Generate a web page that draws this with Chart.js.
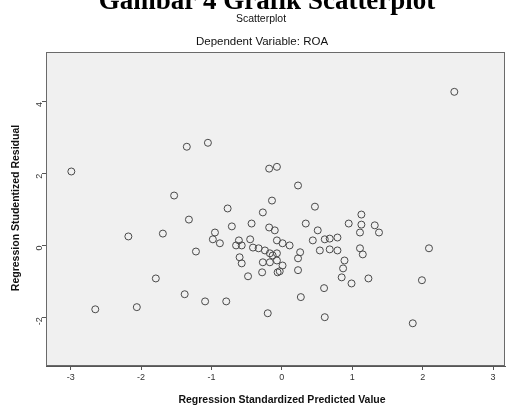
<!DOCTYPE html>
<html>
<head>
<meta charset="utf-8">
<script src="https://cdn.jsdelivr.net/npm/chart.js@4.4.1/dist/chart.umd.min.js"></script>
<style>
  html, body { margin: 0; padding: 0; background: #fff; }
  #wrap { width: 507px; height: 406px; position: relative; }
</style>
</head>
<body>
<div id="wrap"><canvas id="c" width="507" height="406"></canvas></div>
<script>
// predicted value (x) and studentized residual (y)
const predicted = [
  2.45, -2.99, -1.35, -1.05, -0.18, -0.07, 0.23, -1.53, -0.77, -0.14,
  0.47, -0.27, -1.32, 1.13, 0.34, 0.95, 1.13, 1.32, 1.38, 1.11,
  -2.18, -1.69, -0.43, -0.71, -0.18, -0.10, -0.95, -0.98, -0.88, -1.22,
  -0.61, -0.57, -0.65, -0.45, -0.41, -0.33, -0.24, -0.17, -0.07, -0.60,
  -0.57, -0.27, -0.17, -0.07, -0.28, -0.48, -0.06, 0.51, 0.44, 0.61,
  0.68, 0.79, -0.07, 0.01, 0.11, 0.54, 0.68, 0.79, 0.26, 0.23,
  0.01, -0.03, 0.23, 0.89, 0.87, 0.85, 0.99, 1.23, 1.11, 1.15,
  0.60, 0.27, 0.61, 2.09, 1.99, 1.86, -1.79, -1.38, -1.09, -0.79,
  -2.65, -2.06, -0.20, -0.13
];
const residual = [
  4.28, 2.06, 2.75, 2.86, 2.14, 2.19, 1.67, 1.39, 1.03, 1.25,
  1.08, 0.92, 0.72, 0.86, 0.61, 0.61, 0.58, 0.56, 0.36, 0.36,
  0.25, 0.33, 0.61, 0.53, 0.50, 0.42, 0.36, 0.17, 0.06, -0.17,
  0.14, 0.00, 0.00, 0.17, -0.06, -0.08, -0.14, -0.22, -0.22, -0.33,
  -0.50, -0.47, -0.47, -0.42, -0.75, -0.86, -0.75, 0.42, 0.14, 0.17,
  0.19, 0.22, 0.14, 0.06, 0.00, -0.14, -0.11, -0.14, -0.19, -0.36,
  -0.56, -0.72, -0.69, -0.42, -0.64, -0.89, -1.06, -0.92, -0.08, -0.25,
  -1.19, -1.44, -2.00, -0.08, -0.97, -2.17, -0.92, -1.36, -1.56, -1.56,
  -1.78, -1.72, -1.89, -0.28
];
const xTicks = [-3, -2, -1, 0, 1, 2, 3];
const yTicks = [-2, 0, 2, 4];

const points = predicted.map((x, i) => ({ x: x, y: residual[i] }));

// background box + the text around the plot
const frame = {
  id: 'frame',
  beforeDraw(chart) {
    const { ctx, chartArea: a } = chart;
    ctx.save();
    ctx.fillStyle = '#f0f0f0';
    ctx.fillRect(a.left, a.top, a.right - a.left, a.bottom - a.top);
    ctx.restore();
  },
  afterDraw(chart) {
    const { ctx, chartArea: a } = chart;
    ctx.save();
    ctx.strokeStyle = '#6a6a6a';
    ctx.lineWidth = 1;
    ctx.strokeRect(a.left + 0.5, a.top + 0.5, a.right - a.left - 1, a.bottom - a.top - 1);

    ctx.textAlign = 'center';
    ctx.textBaseline = 'alphabetic';
    ctx.fillStyle = '#000';
    ctx.font = 'bold 27px "Liberation Serif", "Times New Roman", serif';
    ctx.fillText('Gambar 4 Grafik Scatterplot', 267, 9);

    ctx.fillStyle = '#111';
    ctx.font = '10.5px "Liberation Sans", Arial, sans-serif';
    ctx.fillText('Scatterplot', 261, 22);
    ctx.font = '11.5px "Liberation Sans", Arial, sans-serif';
    ctx.fillText('Dependent Variable: ROA', 262, 45);

    ctx.font = 'bold 10.5px "Liberation Sans", Arial, sans-serif';
    ctx.fillText('Regression Standardized Predicted Value', 282, 403);
    ctx.translate(19, 208);
    ctx.rotate(-Math.PI / 2);
    ctx.fillText('Regression Studentized Residual', 0, 0);
    ctx.restore();
  }
};

new Chart(document.getElementById('c'), {
  type: 'scatter',
  data: {
    datasets: [{
      data: points,
      pointStyle: 'circle',
      pointRadius: 3.5,
      pointBorderWidth: 1,
      pointBorderColor: '#4a4a4a',
      pointBackgroundColor: 'rgba(0,0,0,0)'
    }]
  },
  options: {
    responsive: false,
    animation: false,
    layout: { autoPadding: false, padding: { top: 52, right: 2, left: 0, bottom: 0 } },
    plugins: { legend: { display: false }, tooltip: { enabled: false } },
    scales: {
      x: {
        min: -3.35,
        max: 3.17,
        afterBuildTicks: s => { s.ticks = xTicks.map(v => ({ value: v })); },
        afterFit: s => { s.height = 40; },
        grid: { drawOnChartArea: false, tickLength: 4, color: '#555' },
        border: { color: '#555' },
        ticks: {
          color: '#333',
          padding: 2,
          maxRotation: 0,
          font: { size: 9, family: '"Liberation Sans", Arial, sans-serif' }
        }
      },
      y: {
        min: -3.36,
        max: 5.39,
        afterBuildTicks: s => { s.ticks = yTicks.map(v => ({ value: v })); },
        afterFit: s => { s.width = 46; },
        grid: { drawOnChartArea: false, tickLength: 4, color: '#555' },
        border: { color: '#555' },
        ticks: {
          color: '#333',
          padding: 2,
          minRotation: 90,
          maxRotation: 90,
          font: { size: 9, family: '"Liberation Sans", Arial, sans-serif' }
        }
      }
    }
  },
  plugins: [frame]
});
</script>
</body>
</html>
